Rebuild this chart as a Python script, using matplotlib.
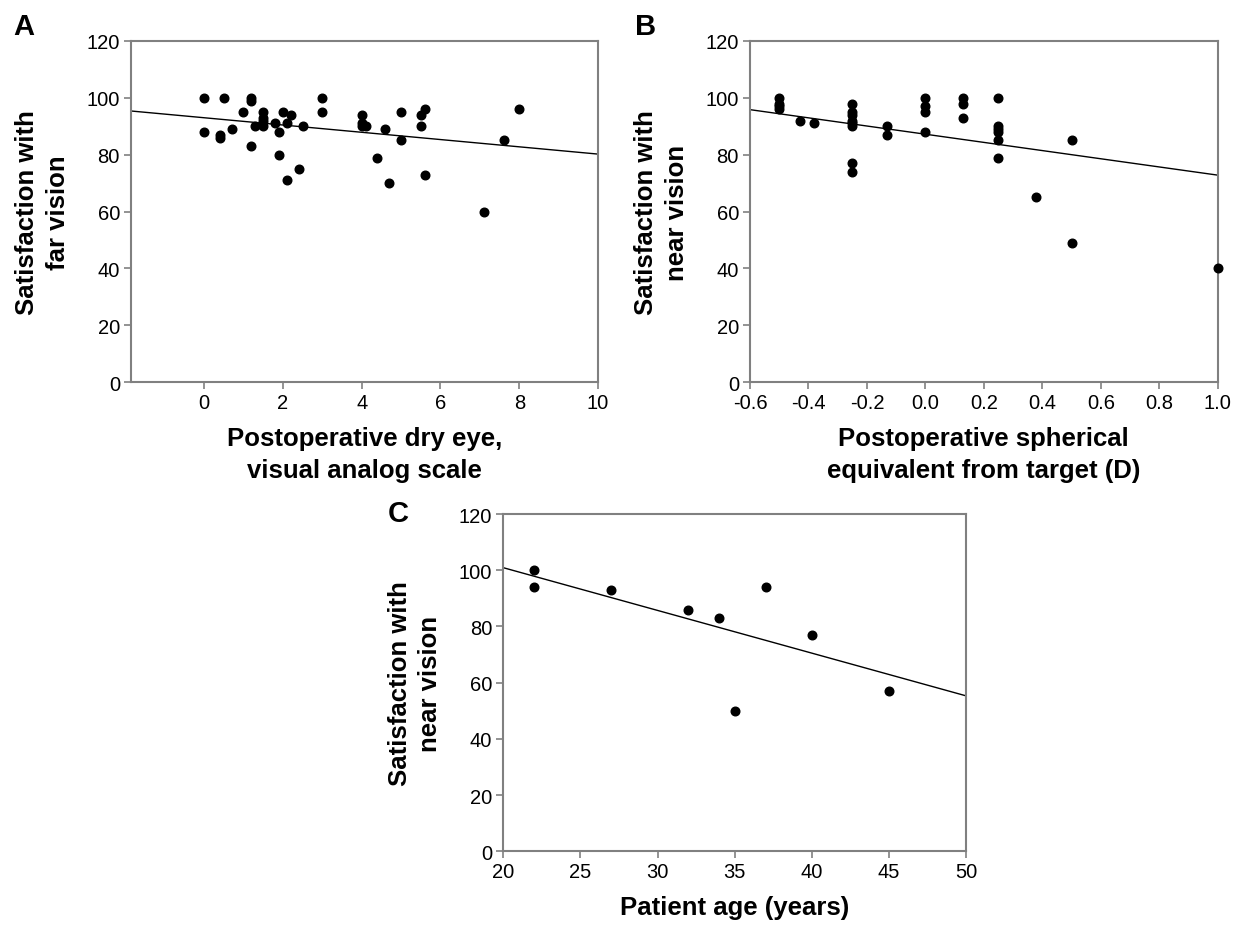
import numpy as np
import matplotlib
matplotlib.use("Agg")
import matplotlib.pyplot as plt
from matplotlib.ticker import FormatStrFormatter

plt.rcParams['font.family'] = ['Liberation Sans', 'DejaVu Sans']

# Panel A: dry eye VAS vs far-vision satisfaction
dry_eye = [0, 0, 0.5, 0.4, 0.4, 0.7, 1.0, 1.2, 1.2, 1.2, 1.3, 1.5, 1.5, 1.5, 1.5,
           1.8, 1.9, 1.9, 2.0, 2.1, 2.1, 2.2, 2.4, 2.5, 3.0, 3.0, 4.0, 4.0, 4.1, 4.0,
           4.6, 4.4, 4.7, 5.0, 5.0, 5.5, 5.6, 5.5, 5.6, 7.1, 7.6, 8.0]
far_sat = [100, 88, 100, 87, 86, 89, 95, 100, 99, 83, 90, 90, 92, 93, 95,
           91, 88, 80, 95, 91, 71, 94, 75, 90, 100, 95, 94, 91, 90, 90,
           89, 79, 70, 95, 85, 94, 96, 90, 73, 60, 85, 96]
fit_a = (93.0, -1.28)   # intercept, slope as drawn

# Panel B: spherical equivalent from target vs near-vision satisfaction
sph_eq = [-0.5, -0.5, -0.5, -0.5, -0.43, -0.38,
          -0.25, -0.25, -0.25, -0.25, -0.25, -0.25, -0.25, -0.25,
          -0.13, -0.13, 0.0, 0.0, 0.0, 0.0,
          0.13, 0.13, 0.13, 0.25, 0.25, 0.25, 0.25, 0.25, 0.25,
          0.38, 0.5, 0.5, 1.0]
near_sat_b = [100, 98, 97, 96, 92, 91,
              98, 95, 94, 92, 91, 90, 77, 74,
              90, 87, 100, 97, 95, 88,
              100, 98, 93, 100, 90, 89, 88, 85, 79,
              65, 85, 49, 40]
fit_b = (87.2, -14.4)

# Panel C: patient age vs near-vision satisfaction
age = [22, 22, 27, 32, 34, 35, 37, 40, 45]
near_sat_c = [100, 94, 93, 86, 83, 50, 94, 77, 57]
fit_c = (131.3, -1.52)

fig = plt.figure(figsize=(12.34, 9.29), dpi=100)

ax_a = fig.add_axes([0.1062, 0.5877, 0.3785, 0.3671])
ax_b = fig.add_axes([0.6078, 0.5877, 0.3790, 0.3671])
ax_c = fig.add_axes([0.4079, 0.0826, 0.3750, 0.3630])

def draw_panel(ax, x, y, fit, xlim, xticks, xlabel, ylabel):
    ax.plot(x, y, 'o', color='black', markersize=6.2, zorder=3, clip_on=False)
    b, k = fit
    xs = np.array(xlim)
    ax.plot(xs, k * xs + b, color='black', linewidth=1.0)
    ax.set_xlim(xlim)
    ax.set_ylim(0, 120)
    ax.set_xticks(xticks)
    ax.set_yticks(range(0, 121, 20))
    for s in ax.spines.values():
        s.set_color('#808080')
        s.set_linewidth(1.5)
    ax.tick_params(direction='out', length=5, width=1.2, color='#808080',
                   labelsize=14.5, labelcolor='black', pad=3)
    ax.set_xlabel(xlabel, fontsize=18.5, fontweight='bold', labelpad=10,
                  linespacing=1.4)
    ax.set_ylabel(ylabel, fontsize=18.5, fontweight='bold', labelpad=12,
                  linespacing=1.35)

draw_panel(ax_a, dry_eye, far_sat, fit_a, (-1.85, 10), range(0, 11, 2),
           'Postoperative dry eye,\nvisual analog scale', 'Satisfaction with\nfar vision')
draw_panel(ax_b, sph_eq, near_sat_b, fit_b, (-0.6, 1.0), np.arange(-0.6, 1.01, 0.2),
           'Postoperative spherical\nequivalent from target (D)', 'Satisfaction with\nnear vision')
ax_b.xaxis.set_major_formatter(FormatStrFormatter('%.1f'))
draw_panel(ax_c, age, near_sat_c, fit_c, (20, 50), range(20, 51, 5),
           'Patient age (years)', 'Satisfaction with\nnear vision')

fig.text(13 / 1234, 1 - 35 / 929, 'A', fontsize=21, fontweight='bold')
fig.text(635 / 1234, 1 - 35 / 929, 'B', fontsize=21, fontweight='bold')
fig.text(388 / 1234, 1 - 522 / 929, 'C', fontsize=21, fontweight='bold')

fig.savefig('out.png', dpi=100, facecolor='white')
